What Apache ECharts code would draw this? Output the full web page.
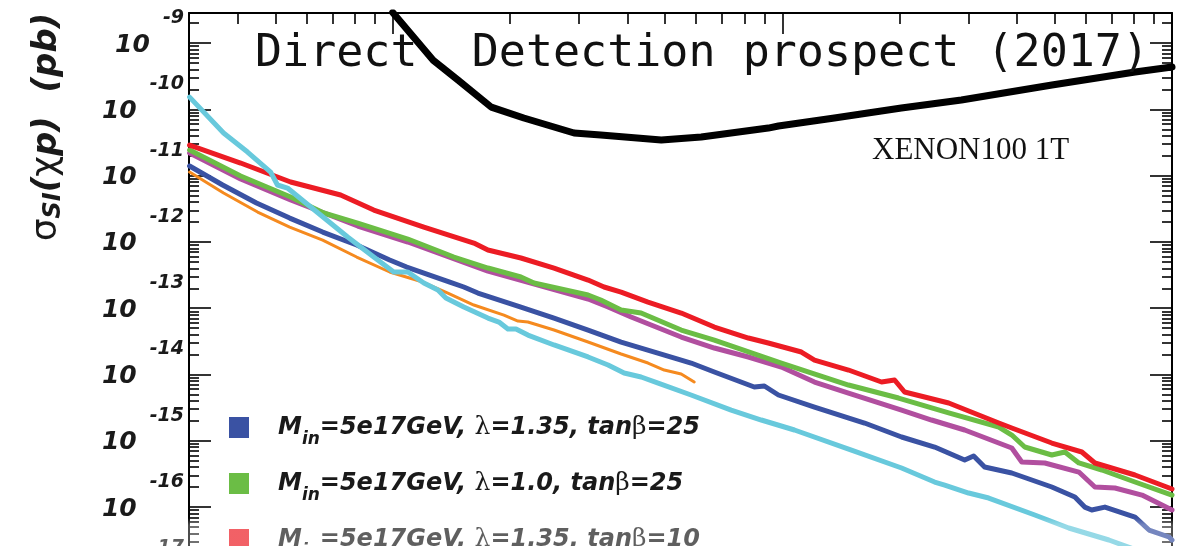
<!DOCTYPE html>
<html>
<head>
<meta charset="utf-8">
<script src="https://cdn.jsdelivr.net/npm/echarts@6/dist/echarts.min.js"></script>
<style>html,body{margin:0;padding:0;background:#fff}#c{width:1193px;height:546px}</style>
</head>
<body>
<div id="c"></div>
<script>
// ---- axis ranges and ticks ----
const xMin = 3, xMax = 1000;
const yMin = 1e-17, yMax = 2.84e-9;
const yDecades = [-18, -17, -16, -15, -14, -13, -12, -11, -10, -9];
const xDecades = [0, 1, 2];
const minorMultipliers = [2, 3, 4, 5, 6, 7, 8, 9];

// ---- series (x: GeV, y: pb) ----
const blackX = [10, 12.7, 14.7, 17.9, 21.7, 29.2, 34.2, 48.9, 61.9, 92, 97.7, 136, 202, 288, 492, 804, 1000];
const blackY = [2.9e-9, 5.5e-10, 2.77e-10, 1.08e-10, 7.4e-11, 4.4e-11, 4.1e-11, 3.44e-11, 3.82e-11, 5.22e-11, 5.6e-11, 7.39e-11, 1.05e-10, 1.38e-10, 2.33e-10, 3.65e-10, 4.35e-10];

const cyanX = [3.01, 3.68, 4.24, 4.86, 5.06, 5.37, 6.16, 7.66, 8.94, 10.06, 10.93, 12.02, 13.06, 13.69, 15.22, 17.55, 18.73, 19.75, 20.72, 22.23, 25.94, 31.72, 35.7, 39.25, 43.4, 48.0, 58.3, 73.9, 88.3, 107.4, 150.4, 202.3, 245.9, 261, 300.6, 338.5, 444.5, 543.3, 688.7, 837.5];
const cyanY = [1.53e-10, 4.39e-11, 2.27e-11, 1.13e-11, 7.22e-12, 6.50e-12, 3.36e-12, 1.185e-12, 5.92e-13, 3.52e-13, 3.52e-13, 2.40e-13, 1.88e-13, 1.425e-13, 1.043e-13, 7.11e-14, 6.19e-14, 4.86e-14, 4.86e-14, 3.94e-14, 2.79e-14, 1.84e-14, 1.39e-14, 1.053e-14, 9.17e-15, 7.44e-15, 4.91e-15, 2.91e-15, 2.06e-15, 1.455e-15, 7.26e-16, 3.89e-16, 2.39e-16, 2.15e-16, 1.63e-16, 1.37e-16, 7.60e-17, 4.84e-17, 3.19e-17, 2.10e-17];

const redX = [3.01, 4.07, 5.47, 7.35, 8.94, 12.02, 16.15, 17.55, 21.33, 25.94, 31.72, 34.86, 38.56, 45.2, 55.0, 66.9, 81.8, 92.0, 111.9, 120.9, 147.8, 179.7, 194.1, 205.9, 267.2, 359.3, 388, 491.5, 587, 634, 803.5, 1000];
const redY = [2.89e-11, 1.55e-11, 8.01e-12, 5.10e-12, 3.03e-12, 1.678e-12, 9.63e-13, 7.55e-13, 5.72e-13, 4.04e-13, 2.66e-13, 2.09e-13, 1.755e-13, 1.24e-13, 8.47e-14, 5.20e-14, 3.55e-14, 2.99e-14, 2.185e-14, 1.654e-14, 1.169e-14, 7.71e-15, 8.26e-15, 5.45e-15, 3.72e-15, 1.856e-15, 1.56e-15, 9.26e-16, 6.78e-16, 4.63e-16, 3.05e-16, 1.875e-16];

const greenX = [3.01, 4.07, 5.47, 6.65, 8.13, 10.93, 14.35, 17.55, 21.33, 23.04, 31.72, 34.2, 38.56, 43.4, 55.0, 66.9, 99.4, 147.8, 198.7, 267.2, 359.3, 388, 418.8, 491.5, 530.9, 576.7, 660.7, 803.5, 1000];
const greenY = [2.43e-11, 9.86e-12, 4.76e-12, 2.73e-12, 1.928e-12, 1.106e-12, 5.92e-13, 4.04e-13, 2.955e-13, 2.40e-13, 1.581e-13, 1.329e-13, 9.39e-14, 8.47e-14, 4.69e-14, 3.31e-14, 1.491e-14, 6.94e-15, 4.42e-15, 2.63e-15, 1.615e-15, 1.223e-15, 8.06e-16, 6.11e-16, 6.78e-16, 4.63e-16, 3.63e-16, 2.39e-16, 1.52e-16];

const magentaX = [3.01, 4.07, 5.47, 8.13, 10.93, 17.55, 31.72, 35.7, 40.9, 55.0, 66.9, 81.8, 99.4, 120.9, 147.8, 202.3, 241.5, 293.7, 388, 411.6, 471.6, 576.7, 634, 713.7, 837.5, 1000];
const magentaY = [2.19e-11, 8.89e-12, 4.29e-12, 1.737e-12, 9.97e-13, 3.64e-13, 1.376e-13, 1.043e-13, 7.37e-14, 3.68e-14, 2.51e-14, 1.837e-14, 1.297e-14, 7.71e-15, 5.26e-15, 2.91e-15, 2.06e-15, 1.455e-15, 7.79e-16, 4.79e-16, 4.63e-16, 3.38e-16, 2.01e-16, 1.94e-16, 1.52e-16, 9.04e-17];

const blueX = [3.01, 3.66, 4.47, 5.44, 6.61, 8.08, 9.82, 10.86, 14.01, 15.22, 16.54, 21.33, 25.94, 31.72, 38.56, 43.4, 55.0, 58.3, 66.9, 84.7, 89.9, 97.7, 120.9, 162.5, 202.3, 245.9, 293.7, 309.7, 330.4, 388, 491.5, 563.2, 597, 622.3, 672.7, 803.5, 873, 982.4, 1000];
const blueY = [1.396e-11, 7.22e-12, 3.86e-12, 2.29e-12, 1.41e-12, 8.98e-13, 5.33e-13, 4.18e-13, 2.485e-13, 2.09e-13, 1.695e-13, 1.043e-13, 7.11e-14, 4.69e-14, 3.09e-14, 2.51e-14, 1.654e-14, 1.491e-14, 1.091e-14, 6.48e-15, 6.71e-15, 4.91e-15, 3.23e-15, 1.856e-15, 1.141e-15, 8.06e-16, 5.13e-16, 5.90e-16, 4.03e-16, 3.27e-16, 2.01e-16, 1.42e-16, 1.0e-16, 9.04e-17, 1.0e-16, 7.09e-17, 4.51e-17, 3.54e-17, 3.19e-17];

const orangeX = [3.01, 3.68, 4.50, 5.44, 6.61, 8.08, 9.82, 11.94, 13.85, 16.15, 19.29, 20.96, 22.23, 25.94, 31.72, 38.56, 45.2, 49.75, 55.0, 59.4];
const orangeY = [1.133e-11, 5.47e-12, 2.825e-12, 1.678e-12, 1.068e-12, 5.92e-13, 3.52e-13, 2.485e-13, 1.695e-13, 1.118e-13, 7.89e-14, 6.41e-14, 6.19e-14, 4.69e-14, 3.09e-14, 2.04e-14, 1.491e-14, 1.169e-14, 1.017e-14, 7.71e-15];

const legendNames = [
  'M_in=5e17GeV, λ=1.35, tanβ=25',
  'M_in=5e17GeV, λ=1.0, tanβ=25',
  'M_in=5e17GeV, λ=1.35, tanβ=10'
];
const titleText = 'Direct  Detection prospect (2017)';
const curveLabel = 'XENON100 1T';

// ---- derived tick values ----
const yMajor = yDecades.map(e => Math.pow(10, e));
const yMinor = [];
yDecades.forEach(e => minorMultipliers.forEach(m => yMinor.push(m * Math.pow(10, e))));
const xMajor = xDecades.map(e => Math.pow(10, e + 1));
const xMinor = [];
xDecades.forEach(e => minorMultipliers.forEach(m => xMinor.push(m * Math.pow(10, e))));

const pairs = (xs, ys) => xs.map((x, i) => [x, ys[i]]);

const boldIt = {fontFamily: 'DejaVu Sans', fontWeight: 'bold', fontStyle: 'italic', color: '#1a1a1a'};

const chart = echarts.init(document.getElementById('c'), null, {renderer: 'canvas'});

function yAxisDef(pos, major, withLabels) {
  return {
    type: 'log', position: pos, min: yMin, max: yMax, logBase: 10,
    axisLine: {show: major, onZero: false, lineStyle: {color: '#000', width: 2}},
    axisTick: {show: true, inside: true, length: major ? 22 : 10, customValues: major ? yMajor : yMinor,
      lineStyle: {color: '#000', width: 1.6}},
    axisLabel: withLabels ? {
      show: true, margin: 5, hideOverlap: false, customValues: yMajor,
      formatter: v => '{b|10}{e|' + Math.round(Math.log10(v)) + '}',
      rich: {
        b: Object.assign({fontSize: 25, padding: [4, 0, 0, 0]}, boldIt),
        e: Object.assign({fontSize: 19, padding: [0, 0, 50, 13]}, boldIt)
      }
    } : {show: false},
    splitLine: {show: false}, minorTick: {show: false}
  };
}
function xAxisDef(major) {
  return {
    type: 'log', position: 'top', min: xMin, max: xMax, logBase: 10,
    axisLine: {show: major, onZero: false, lineStyle: {color: '#000', width: 2}},
    axisTick: {show: true, inside: true, length: major ? 21 : 11, customValues: major ? xMajor : xMinor,
      lineStyle: {color: '#000', width: 1.6}},
    axisLabel: {show: false}, splitLine: {show: false}
  };
}

function line(name, xs, ys, color, width, z) {
  return {
    type: 'line', name: name, data: pairs(xs, ys), xAxisIndex: 0, yAxisIndex: 0,
    showSymbol: false, symbol: 'none', smooth: false, clip: true, z: z,
    color: color, lineStyle: {color: color, width: width, join: 'round', cap: 'round'},
    itemStyle: {color: color}, emphasis: {disabled: true}
  };
}

const option = {
  animation: false,
  backgroundColor: '#ffffff',
  grid: {left: 189, right: 21, top: 13, bottom: -27.4, containLabel: false, outerBoundsMode: 'none'},
  xAxis: [xAxisDef(true), xAxisDef(false)],
  yAxis: [yAxisDef('left', true, true), yAxisDef('left', false, false), yAxisDef('right', true, false), yAxisDef('right', false, false)],
  legend: {
    orient: 'vertical', left: 229, top: 407, height: 300, padding: 0, itemGap: 15,
    itemWidth: 20, itemHeight: 21, icon: 'rect', selectedMode: false,
    data: legendNames,
    formatter: name => {
      const m = name.match(/^M_in=(.*?), λ=(.*?), tanβ=(.*)$/);
      return '{sp| }{t|M}{s|in}{t|=' + m[1] + ', }{g|λ}{t|=' + m[2] + ', tan}{g|β}{t|=' + m[3] + '}';
    },
    textStyle: Object.assign({fontSize: 24, lineHeight: 30, rich: {
      sp: {width: 24, fontSize: 10},
      t: Object.assign({fontSize: 24, lineHeight: 30}, boldIt),
      s: Object.assign({fontSize: 17, lineHeight: 18, padding: [24, 0, 0, 0]}, boldIt),
      g: {fontFamily: 'DejaVu Serif', fontWeight: 'normal', fontStyle: 'normal', fontSize: 25, lineHeight: 30, color: '#1a1a1a'}
    }}, boldIt)
  },
  series: [
    line('magenta', magentaX, magentaY, '#b14f9f', 5, 2),
    line(legendNames[1], greenX, greenY, '#6bbd45', 5, 3),
    line('orange', orangeX, orangeY, '#f58a1f', 3, 3),
    line(legendNames[0], blueX, blueY, '#3a52a3', 5, 4),
    line(legendNames[2], redX, redY, '#ec1c24', 5, 5),
    line('cyan', cyanX, cyanY, '#68c9dc', 5, 6),
    line(curveLabel, blackX, blackY, '#000000', 7, 7)
  ],
  graphic: [
    {type: 'text', x: 702, y: 54, z: 100,
      style: {text: titleText, font: '45px "DejaVu Sans Mono"', fill: '#111', align: 'center', verticalAlign: 'middle',
        textAlign: 'center', textVerticalAlign: 'middle',
        shadowBlur: 3, shadowColor: 'rgba(0,0,0,0.35)', shadowOffsetX: 3, shadowOffsetY: 4}},
    {type: 'text', x: 872, y: 151, z: 100,
      style: {text: curveLabel, font: '31px "Liberation Serif"', fill: '#111', align: 'left', verticalAlign: 'middle',
        textAlign: 'left', textVerticalAlign: 'middle'}},
    {type: 'text', x: 47, y: 127, z: 100, rotation: Math.PI / 2,
      style: {text: '{g|σ}{s|SI}{t|(}{g|χ}{t|p)  (pb)}', align: 'center', verticalAlign: 'middle',
        textAlign: 'center', textVerticalAlign: 'middle',
        rich: {
          g: {fontFamily: 'DejaVu Sans', fontSize: 36, fill: '#1a1a1a', color: '#1a1a1a'},
          t: {fontFamily: 'DejaVu Sans', fontWeight: 'bold', fontStyle: 'italic', fontSize: 34, fill: '#1a1a1a', color: '#1a1a1a'},
          s: {fontFamily: 'DejaVu Sans', fontWeight: 'bold', fontStyle: 'italic', fontSize: 24, padding: [14, 0, 0, 0], fill: '#1a1a1a', color: '#1a1a1a'}
        }}},
    {type: 'rect', z: 101, shape: {x: 0, y: 518, width: 1193, height: 28},
      style: {fill: {type: 'linear', x: 0, y: 0, x2: 0, y2: 1, colorStops: [
        {offset: 0, color: 'rgba(255,255,255,0)'},
        {offset: 0.25, color: 'rgba(255,255,255,0.3)'},
        {offset: 1, color: 'rgba(255,255,255,0.3)'}]}}}
  ]
};
chart.setOption(option);
</script>
</body>
</html>
